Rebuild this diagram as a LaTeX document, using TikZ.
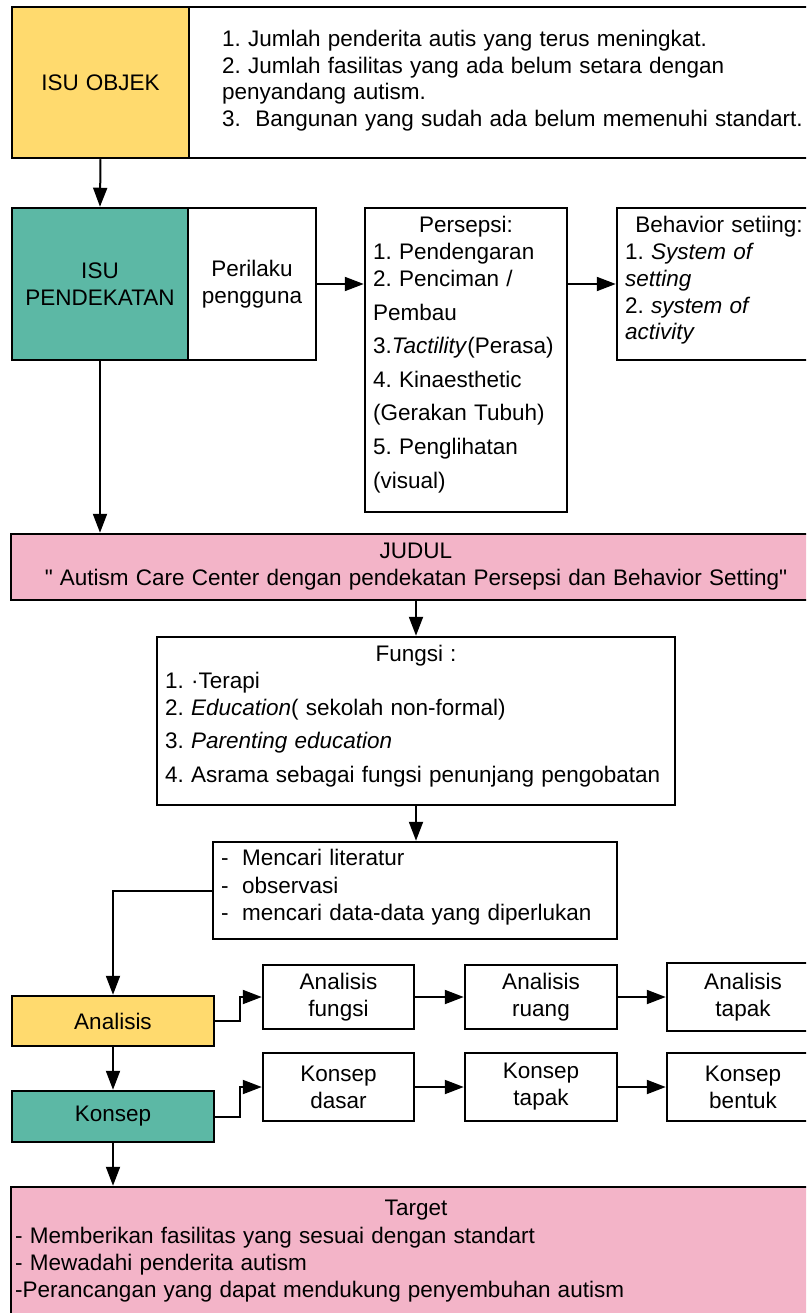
\documentclass[tikz,border=0pt]{standalone}
\usepackage{fontspec}
\setmainfont{Liberation Sans}
\usetikzlibrary{arrows.meta}
\definecolor{isuyellow}{HTML}{FFDA6E}
\definecolor{isuteal}{HTML}{5CB8A5}
\definecolor{isupink}{HTML}{F3B4C8}
% text face used throughout the chart, with slightly wider word spaces
\newcommand{\chartfont}{\fontsize{22.5}{27}\selectfont\spaceskip=7.2pt\relax}

\begin{document}
\frenchspacing
\begin{tikzpicture}[x=1pt,y=-1pt,
  every node/.style={font=\chartfont, text=black},
  box/.style={draw, line width=2.5pt, inner sep=0pt, align=center},
  ln/.style={anchor=base west, inner sep=0pt},
  lc/.style={anchor=base, inner sep=0pt},
  arr/.style={line width=2pt, -{Triangle[length=19pt,width=14pt]}},
]
\useasboundingbox (0,0) rectangle (806,1313);
\clip (0,0) rectangle (806,1313);

% ---- issue row: object ----
\node[box, fill=isuyellow, minimum width=177pt, minimum height=151pt] (isuobj) at (100.5,82.5) {ISU OBJEK};
\node[box, fill=white, minimum width=632pt, minimum height=151pt] (objtxt) at (505,82.5) {};
\node[ln] (o1) at (222,47) {1. Jumlah penderita autis yang terus meningkat.};
\node[ln] (o2) at (222,73.5) {2. Jumlah fasilitas yang ada belum setara dengan};
\node[ln] (o3) at (222,100) {penyandang autism.};
\node[ln] (o4) at (222,126.5) {3.\ \ Bangunan yang sudah ada belum memenuhi standart.};

% ---- issue row: approach ----
\node[box, fill=isuteal, minimum width=176pt, minimum height=152pt] (isupend) at (100,284) {ISU\\PENDEKATAN};
\node[box, fill=white, minimum width=128pt, minimum height=152pt] (perilaku) at (252,284) {Perilaku\\pengguna};
\node[box, fill=white, minimum width=202pt, minimum height=304pt] (persepsi) at (466,360) {};
\node[lc] (p0) at (466,232.5) {Persepsi:};
\node[ln] (p1) at (373,259.5) {1. Pendengaran};
\node[ln] (p2) at (373,286.5) {2. Penciman /};
\node[ln] (p3) at (373,320.5) {Pembau};
\node[ln] (p4) at (373,353.5) {3.\textit{Tactility}(Perasa)};
\node[ln] (p5) at (373,387.5) {4. Kinaesthetic};
\node[ln] (p6) at (373,420.5) {(Gerakan Tubuh)};
\node[ln] (p7) at (373,454.5) {5. Penglihatan};
\node[ln] (p8) at (373,488.5) {(visual)};
\node[box, fill=white, minimum width=204pt, minimum height=152pt] (behavior) at (719,284) {};
\node[lc] (b0) at (719,232.5) {Behavior setiing:};
\node[ln] (b1) at (625,259.5) {1. \textit{System of}};
\node[ln] (b2) at (625,286.5) {\textit{setting}};
\node[ln] (b3) at (625,313.5) {2. \textit{system of}};
\node[ln] (b4) at (625,339.5) {\textit{activity}};

% ---- title ----
\node[box, fill=isupink, minimum width=810pt, minimum height=66pt] (judul) at (416,567)
  {JUDUL\\\textquotedbl{} Autism Care Center dengan pendekatan Persepsi dan Behavior Setting\textquotedbl};

% ---- functions ----
\node[box, fill=white, minimum width=518pt, minimum height=168pt] (fungsi) at (416,721) {};
\node[lc] (f0) at (416,661.5) {Fungsi :};
\node[ln] (f1) at (165,688.5) {1. ·Terapi};
\node[ln] (f2) at (165,715.5) {2. \textit{Education}( sekolah non-formal)};
\node[ln] (f3) at (165,748.5) {3. \textit{Parenting education}};
\node[ln] (f4) at (165,782.5) {4. Asrama sebagai fungsi penunjang pengobatan};

% ---- data collection ----
\node[box, fill=white, minimum width=404pt, minimum height=97pt] (lit) at (415,890.5) {};
\node[ln] (l1) at (221,865) {\makebox[21pt][l]{-}Mencari literatur};
\node[ln] (l2) at (221,893) {\makebox[21pt][l]{-}observasi};
\node[ln] (l3) at (221,920.5) {\makebox[21pt][l]{-}mencari data-data yang diperlukan};

% ---- analysis row ----
\node[box, fill=isuyellow, minimum width=202pt, minimum height=50pt] (analisis) at (113,1021) {Analisis};
\node[box, fill=white, minimum width=151pt, minimum height=64pt] (afungsi) at (338.5,997) {Analisis\\fungsi};
\node[box, fill=white, minimum width=152pt, minimum height=64pt] (aruang) at (541,997) {Analisis\\ruang};
\node[box, fill=white, minimum width=152pt, minimum height=68pt] (atapak) at (743,997) {Analisis\\tapak};

% ---- concept row ----
\node[box, fill=isuteal, minimum width=202pt, minimum height=51pt] (konsep) at (113,1116.5) {Konsep};
\node[box, fill=white, minimum width=151pt, minimum height=68pt] (kdasar) at (338.5,1087) {Konsep\\dasar};
\node[box, fill=white, minimum width=152pt, minimum height=68pt] (ktapak) at (541,1087) {Konsep\\tapak};
\node[box, fill=white, minimum width=152pt, minimum height=68pt] (kbentuk) at (743,1087) {Konsep\\bentuk};

% ---- target ----
\node[box, fill=isupink, minimum width=810pt, minimum height=153pt] (target) at (416,1263.5) {};
\node[lc] (t0) at (416,1215.5) {Target};
\node[ln] (t1) at (15,1243) {- Memberikan fasilitas yang sesuai dengan standart};
\node[ln] (t2) at (15,1270) {- Mewadahi penderita autism};
\node[ln] (t3) at (15,1297) {-Perancangan yang dapat mendukung penyembuhan autism};

% ---- connectors ----
\draw[arr] (isuobj.south) -- (isupend.north);
\draw[arr] (isupend.south) -- (isupend.south |- judul.north);
\draw[arr] (perilaku.east) -- (perilaku.east -| persepsi.west);
\draw[arr] (persepsi.east |- behavior.west) -- (behavior.west);
\draw[arr] (judul.south -| fungsi.north) -- (fungsi.north);
\draw[arr] (fungsi.south) -- (fungsi.south |- lit.north);
\draw[arr] (lit.west) -| (analisis.north);
\draw[arr] (analisis.east) -- ++(25,0) |- (afungsi.west);
\draw[arr] (afungsi.east) -- (aruang.west);
\draw[arr] (aruang.east) -- (atapak.west);
\draw[arr] (analisis.south) -- (konsep.north);
\draw[arr] (konsep.east) -- ++(25,0) |- (kdasar.west);
\draw[arr] (kdasar.east) -- (ktapak.west);
\draw[arr] (ktapak.east) -- (kbentuk.west);
\draw[arr] (konsep.south) -- (konsep.south |- target.north);
\end{tikzpicture}
\end{document}
